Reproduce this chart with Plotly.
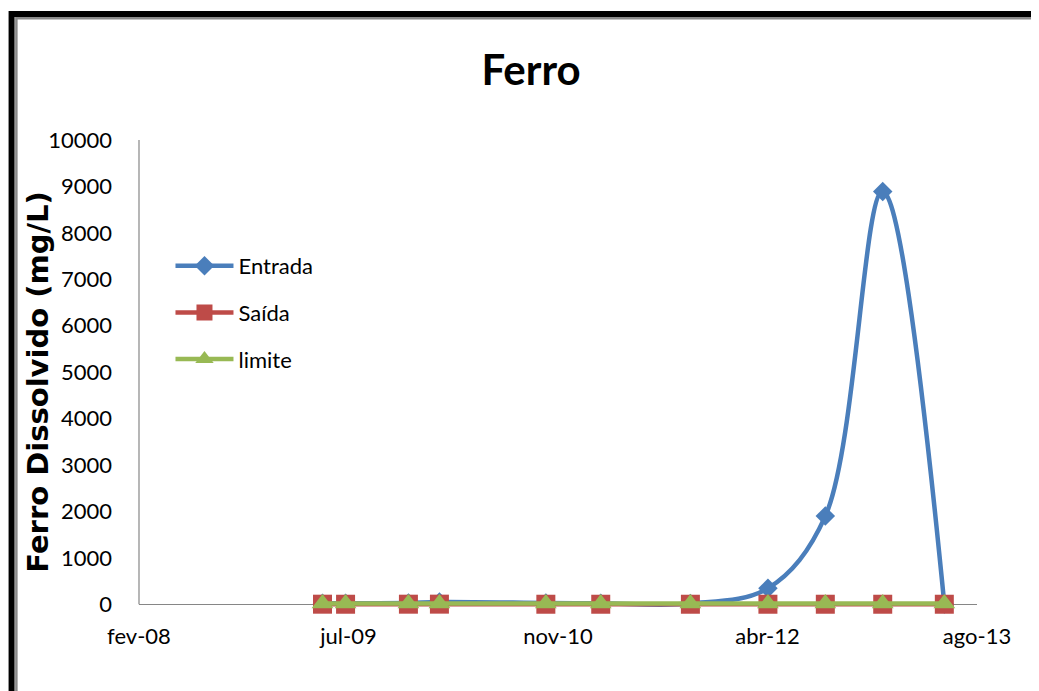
import plotly.graph_objects as go

# ---- data ----
dates = ["2009-05-05", "2009-06-29", "2009-11-26", "2010-02-08", "2010-10-20",
         "2011-02-28", "2011-09-30", "2012-04-02", "2012-08-17", "2013-01-01",
         "2013-05-28"]
entrada = [25, 20, 30, 50, 30, 20, 15, 345, 1900, 8890, 5]
saida = [2, 1, 2, 3, 1, 1, 1, 1, 1, 1, 1]
limite = [15, 15, 15, 15, 15, 15, 15, 15, 15, 15, 15]

x_tickvals = ["2008-02-22", "2009-07-06", "2010-11-18", "2012-04-01", "2013-08-14"]
x_ticktext = ["fev-08", "jul-09", "nov-10", "abr-12", "ago-13"]
y_tickvals = [0, 1000, 2000, 3000, 4000, 5000, 6000, 7000, 8000, 9000, 10000]
y_ticktext = ["0", "1000", "2000", "3000", "4000", "5000", "6000", "7000", "8000",
              "9000", "10000"]

# ---- layout geometry (pixels, in reference-image coordinates) ----
OFF = 8                      # page body margin
W, H = 1039 - OFF, 691 - OFF
L, R = 138.5, 977.0
T, B = 140.0, 607.7
pw, ph = R - L, B - T


def px_x(p):
    return (p - L) / pw


def px_y(p):
    return (B - p) / ph


FONT = "Lato, Open Sans, sans-serif"
BLUE, RED, GREEN = "#4A7EBB", "#BE4B48", "#98B954"

fig = go.Figure()
fig.add_trace(go.Scatter(
    x=dates, y=entrada, name="Entrada", mode="lines+markers",
    line=dict(color=BLUE, width=4.5, shape="spline", smoothing=1.0),
    marker=dict(symbol="diamond", size=15, color=BLUE),
    legendgroup="a", cliponaxis=False))
fig.add_trace(go.Scatter(
    x=dates, y=saida, name="Saída", mode="lines+markers",
    line=dict(color=RED, width=4.5, shape="spline", smoothing=1.0),
    marker=dict(symbol="square", size=19, color=RED),
    legendgroup="b", cliponaxis=False))
fig.add_trace(go.Scatter(
    x=dates, y=limite, name="limite", mode="lines+markers",
    line=dict(color=GREEN, width=4.5, shape="spline", smoothing=1.0),
    marker=dict(symbol="triangle-up", size=19, color=GREEN),
    legendgroup="c", cliponaxis=False))

shapes = [
    # frame (black outer, gray inner)
    dict(type="rect", xref="paper", yref="paper",
         x0=px_x(11), x1=px_x(1200), y0=px_y(14), y1=px_y(900),
         line=dict(color="black", width=6), fillcolor="rgba(0,0,0,0)", layer="below"),
    dict(type="rect", xref="paper", yref="paper",
         x0=px_x(15.8), x1=px_x(1200), y0=px_y(18.4), y1=px_y(900),
         line=dict(color="#8a8a8a", width=2.5), fillcolor="rgba(0,0,0,0)", layer="below"),
    # y axis line from 0 to 10000
    dict(type="line", xref="paper", yref="y", x0=0, x1=0, y0=0, y1=10000,
         line=dict(color="#868686", width=1.2), layer="below"),
]

fig.update_layout(
    width=W, height=H,
    margin=dict(l=L - OFF, r=1039 - R, t=T - OFF, b=691 - B, autoexpand=False),
    paper_bgcolor="white", plot_bgcolor="white",
    font=dict(family=FONT, color="black"),
    title=dict(text="<b>Ferro</b>", font=dict(family=FONT, size=42, color="black"),
               x=(531 - OFF) / W, xref="container", xanchor="center",
               y=1 - (70 - OFF) / H, yref="container", yanchor="middle"),
    showlegend=True,
    legend=dict(x=px_x(170), y=px_y(245), xanchor="left", yanchor="top",
                bgcolor="rgba(0,0,0,0)", font=dict(family=FONT, size=22, color="black"),
                traceorder="grouped", tracegroupgap=15, itemwidth=58),
    xaxis=dict(type="date", range=["2008-02-22", "2013-08-14"],
               tickvals=x_tickvals, ticktext=x_ticktext,
               showgrid=False, zeroline=False, showline=False, ticks="",
               tickfont=dict(family=FONT, size=22, color="black"),
               ticklabelstandoff=13),
    yaxis=dict(range=[-80, 10000], tickvals=y_tickvals, ticktext=y_ticktext,
               showgrid=False, zeroline=True, zerolinecolor="#868686", zerolinewidth=1.2,
               showline=False, ticks="",
               tickfont=dict(family=FONT, size=22, color="black"),
               ticklabelstandoff=26),
    shapes=shapes,
    annotations=[dict(text="<b>Ferro Dissolvido (mg/L)</b>", textangle=-90,
                      xref="paper", yref="paper", x=px_x(38), y=px_y(382),
                      xanchor="center", yanchor="middle", showarrow=False,
                      font=dict(family="DejaVu Sans, sans-serif", size=29, color="black"))],
)

fig.write_html("out.html")
